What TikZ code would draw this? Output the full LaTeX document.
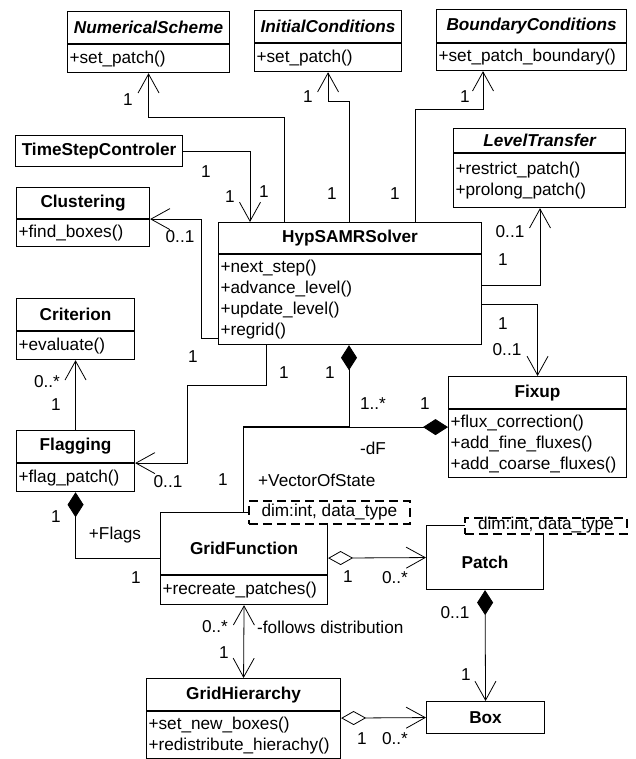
\documentclass[tikz,border=0pt]{standalone}
\usepackage{fontspec}
\setmainfont{Liberation Sans}
\usetikzlibrary{arrows.meta}
\tikzset{
  umlbarb/.tip={Straight Barb[length=19pt,width=21pt]},
  umlfdia/.tip={Diamond[length=25pt,width=16pt]},
  umlodia/.tip={Diamond[length=25pt,width=14pt,fill=white]},
}
\begin{document}
\begin{tikzpicture}[x=1pt,y=-1pt,
  every node/.style={font=\fontsize{17.2}{21}\selectfont},
  cls/.style={draw, line width=1.1pt, inner sep=0pt, anchor=north west, font=\fontsize{17.2}{21}\selectfont\bfseries},
  mth/.style={draw, line width=1.1pt, inner xsep=2pt, inner ysep=0pt, anchor=north west, align=left},
  tpl/.style={draw, dash pattern=on 9pt off 5pt, line width=1.8pt, fill=white, anchor=north west, inner sep=1pt},
  lbl/.style={inner sep=0pt},
  conn/.style={line width=0.8pt}]
\useasboundingbox (0,0) rectangle (635,759);

% classes
\node[cls, minimum width=162pt, minimum height=32pt] (ns) at (67,11) {\itshape NumericalScheme};
\node[mth, text width=158pt, minimum height=28pt] (nsb) at (ns.south west) {+set\_patch()};

\node[cls, minimum width=147pt, minimum height=32pt] (ic) at (254,10) {\itshape InitialConditions};
\node[mth, text width=143pt, minimum height=28pt] (icb) at (ic.south west) {+set\_patch()};

\node[cls, minimum width=190pt, minimum height=33pt] (bc) at (436,9) {\itshape BoundaryConditions};
\node[mth, text width=186pt, minimum height=27pt] (bcb) at (bc.south west) {+set\_patch\_boundary()};

\node[cls, minimum width=167pt, minimum height=31pt] (tsc) at (15,135) {TimeStepControler};

\node[cls, minimum width=133pt, minimum height=31pt] (cl) at (16,187) {Clustering};
\node[mth, text width=129pt, minimum height=27pt] (clb) at (cl.south west) {+find\_boxes()};

\node[cls, minimum width=172pt, minimum height=24pt] (lt) at (453,128) {\itshape LevelTransfer};
\node[mth, text width=168pt, minimum height=54pt] (ltb) at (lt.south west) {+restrict\_patch()\\+prolong\_patch()};

\node[cls, minimum width=263pt, minimum height=31pt] (hs) at (218,222) {HypSAMRSolver};
\node[mth, text width=259pt, minimum height=90pt] (hsb) at (hs.south west) {+next\_step()\\+advance\_level()\\+update\_level()\\+regrid()};

\node[cls, minimum width=118pt, minimum height=32pt] (cr) at (16,298) {Criterion};
\node[mth, text width=114pt, minimum height=28pt] (crb) at (cr.south west) {+evaluate()};

\node[cls, minimum width=178pt, minimum height=32pt] (fx) at (448,376) {Fixup};
\node[mth, text width=174pt, minimum height=68pt] (fxb) at (fx.south west) {+flux\_correction()\\+add\_fine\_fluxes()\\+add\_coarse\_fluxes()};

\node[cls, minimum width=118pt, minimum height=32pt] (fl) at (16,430) {Flagging};
\node[mth, text width=114pt, minimum height=28pt] (flb) at (fl.south west) {+flag\_patch()};

\node[cls, minimum width=167pt, minimum height=62pt, text height=24pt, text depth=3pt] (gf) at (160,512) {GridFunction};
\node[mth, text width=163pt, minimum height=29pt] (gfb) at (gf.south west) {+recreate\_patches()};

\node[cls, minimum width=117pt, minimum height=64pt, text height=24pt, text depth=3pt] (pa) at (426,525) {Patch};

\node[cls, minimum width=194pt, minimum height=32pt] (gh) at (146,678) {GridHierarchy};
\node[mth, text width=190pt, minimum height=47pt] (ghb) at (gh.south west) {+set\_new\_boxes()\\+redistribute\_hierachy()};

\node[cls, minimum width=118pt, minimum height=32pt] (bx) at (426,701) {Box};

% connectors
\draw[conn,-umlbarb] ([xshift=66pt]hs.north west) |- ([yshift=-44pt]nsb.south) -- (nsb.south);
\draw[conn,-umlbarb] ([xshift=131pt]hs.north west) |- ([yshift=-29pt]icb.south) -- (icb.south);
\draw[conn,-umlbarb] ([xshift=197pt]hs.north west) |- ([xshift=47pt,yshift=-38pt]bcb.south west) -- ([xshift=47pt]bcb.south west);
\draw[conn,-umlbarb] (tsc.east) -| ([xshift=32pt]hs.north west);
\draw[conn,-umlbarb] ([yshift=7pt]hsb.south west) -- ++(-17,0) |- (cl.south east);
\draw[conn,-umlbarb] ([yshift=60pt]hsb.south east) -| ([xshift=87pt]ltb.south west);
\draw[conn,-umlbarb] ([yshift=41pt]hsb.south east) -| (fx.north);
\draw[conn,-umlbarb] (fl.north) -- (crb.south);
\draw[conn,-umlbarb] ([xshift=48pt]hsb.south west) -- ++(0,40) -- ++(-79,0) |- (fl.south east);
\draw[conn,umlfdia-] (flb.south) |- ([yshift=17pt]gf.south west);
\draw[conn,umlfdia-] ([xshift=131pt]hsb.south west) |- ([xshift=83pt,yshift=86pt]gf.north west) -- ([xshift=83pt]gf.north west);
\draw[conn,umlfdia-] ([yshift=-18pt]fx.south west) -| ([xshift=83pt]gf.north west);
\draw[conn,umlodia-umlbarb] ([yshift=17pt]gf.south east) -- (pa.west);
\draw[conn,umlfdia-umlbarb] (pa.south) -- (bx.north);
\draw[conn,umlbarb-umlbarb] (gfb.south) -- (gh.north);
\draw[conn,umlodia-umlbarb] ([yshift=-7pt]ghb.north east) -- (bx.west);

% template parameters
\node[tpl, minimum width=161pt, minimum height=23pt, text height=12pt, text depth=4pt] (gft) at (248,500) {dim:int, data\_type};
\node[tpl, minimum width=162pt, minimum height=16pt, text height=11pt, text depth=3pt, inner ysep=1pt] (pat) at (464,517) {dim:int, data\_type};

% multiplicity and role labels
\node[lbl] (m1) at (128,100) {1};
\node[lbl] (m2) at (308,97) {1};
\node[lbl] (m3) at (465,97) {1};
\node[lbl] (m4) at (332,194) {1};
\node[lbl] (m5) at (395,194) {1};
\node[lbl] (m6) at (206,172) {1};
\node[lbl] (m7) at (230,197) {1};
\node[lbl] (m8) at (264,192) {1};
\node[lbl] (m9) at (180,237) {0..1};
\node[lbl] (m10) at (510,232) {0..1};
\node[lbl] (m11) at (503,260) {1};
\node[lbl] (m12) at (503,324) {1};
\node[lbl] (m13) at (507,350) {0..1};
\node[lbl] (m14) at (47,382) {0..*};
\node[lbl] (m15) at (56,405) {1};
\node[lbl] (m16) at (193,357) {1};
\node[lbl] (m17) at (284,373) {1};
\node[lbl] (m18) at (168,482) {0..1};
\node[lbl] (m19) at (56,517) {1};
\node[lbl] (r1) at (115,535) {+Flags};
\node[lbl] (m20) at (136,578) {1};
\node[lbl] (m21) at (330,373) {1};
\node[lbl] (m22) at (373,404) {1..*};
\node[lbl] (m23) at (425,404) {1};
\node[lbl] (r2) at (373,448) {-dF};
\node[lbl] (m24) at (223,480) {1};
\node[lbl, anchor=west] (r3) at (258,480) {+VectorOfState};
\node[lbl] (m25) at (348,577) {1};
\node[lbl] (m26) at (395,578) {0..*};
\node[lbl] (m27) at (455,613) {0..1};
\node[lbl] (m28) at (466,675) {1};
\node[lbl] (m29) at (215,627) {0..*};
\node[lbl, anchor=west] (r4) at (257,627) {-follows distribution};
\node[lbl] (m30) at (224,653) {1};
\node[lbl] (m31) at (362,739) {1};
\node[lbl] (m32) at (395,739) {0..*};
\end{tikzpicture}
\end{document}
